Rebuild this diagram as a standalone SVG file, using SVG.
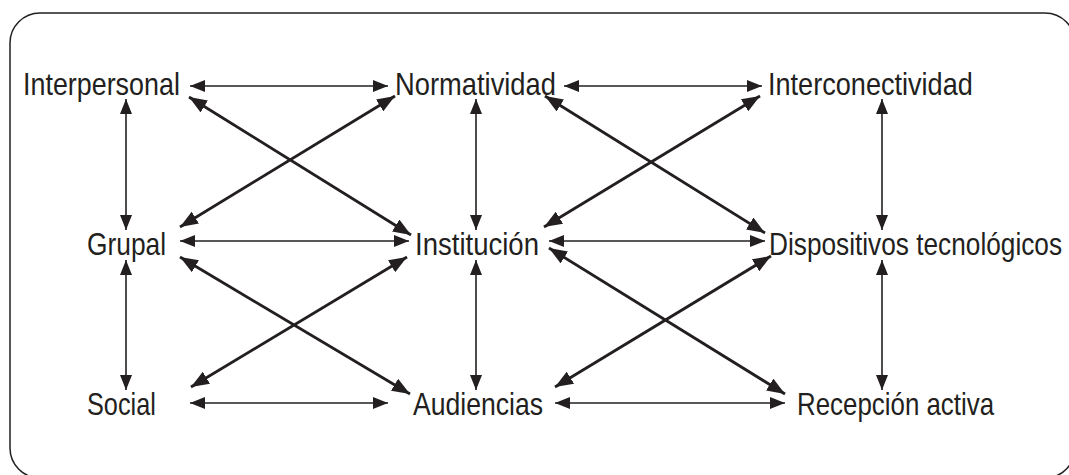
<svg xmlns="http://www.w3.org/2000/svg" width="1069" height="475" viewBox="0 0 1069 475">
  <style>
    .frame { fill: none; stroke: #231f20; stroke-width: 1.5; }
    .lbl { font-family: "Liberation Sans", Arial, sans-serif; font-size: 32px; fill: #231f20; }
    .thin { stroke: #231f20; stroke-width: 1.6; fill: none; marker-start: url(#ah); marker-end: url(#ah); }
    .thick { stroke: #231f20; stroke-width: 2.8; fill: none; marker-start: url(#ahb); marker-end: url(#ahb); }
  </style>
  <defs>
    <marker id="ah" viewBox="0 -6 15 12" refX="15" refY="0" markerWidth="15" markerHeight="12" markerUnits="userSpaceOnUse" orient="auto-start-reverse">
      <path d="M0,-6 L15,0 L0,6 z" fill="#231f20"/>
    </marker>
    <marker id="ahb" viewBox="0 -7 18 14" refX="18" refY="0" markerWidth="18" markerHeight="14" markerUnits="userSpaceOnUse" orient="auto-start-reverse">
      <path d="M0,-7 L18,0 L0,7 z" fill="#231f20"/>
    </marker>
  </defs>

  <rect class="frame" x="10" y="13" width="1065" height="465" rx="30" ry="30"/>

  <g id="connectors">
    <line class="thin" x1="190" y1="86" x2="388" y2="86"/>
    <line class="thin" x1="564" y1="86" x2="762" y2="86"/>
    <line class="thin" x1="180" y1="241" x2="409" y2="241"/>
    <line class="thin" x1="549" y1="241" x2="765" y2="241"/>
    <line class="thin" x1="190" y1="403" x2="388" y2="403"/>
    <line class="thin" x1="555" y1="403" x2="785" y2="403"/>
    <line class="thin" x1="126" y1="99" x2="126" y2="230"/>
    <line class="thin" x1="476" y1="99" x2="476" y2="230"/>
    <line class="thin" x1="882" y1="99" x2="882" y2="230"/>
    <line class="thin" x1="126" y1="260" x2="126" y2="390"/>
    <line class="thin" x1="476" y1="260" x2="476" y2="390"/>
    <line class="thin" x1="882" y1="260" x2="882" y2="390"/>
    <line class="thick" x1="189" y1="97" x2="411" y2="235"/>
    <line class="thick" x1="395" y1="96" x2="180" y2="227"/>
    <line class="thick" x1="180" y1="257" x2="410" y2="394"/>
    <line class="thick" x1="407" y1="257" x2="191" y2="387"/>
    <line class="thick" x1="545" y1="96" x2="765" y2="233"/>
    <line class="thick" x1="760" y1="96" x2="544" y2="227"/>
    <line class="thick" x1="549" y1="248" x2="785" y2="394"/>
    <line class="thick" x1="771" y1="256" x2="555" y2="387"/>
  </g>

  <g id="interpersonal"><text class="lbl" transform="translate(23,94.5) scale(0.840,1)">Interpersonal</text></g>
  <g id="normatividad"><text class="lbl" transform="translate(395,94.5) scale(0.854,1)">Normatividad</text></g>
  <g id="interconectividad"><text class="lbl" transform="translate(768,94.5) scale(0.847,1)">Interconectividad</text></g>
  <g id="grupal"><text class="lbl" transform="translate(87,255) scale(0.823,1)">Grupal</text></g>
  <g id="institucion"><text class="lbl" transform="translate(415,255) scale(0.861,1)">Institución</text></g>
  <g id="dispositivos"><text class="lbl" transform="translate(769,255) scale(0.820,1)">Dispositivos tecnológicos</text></g>
  <g id="social"><text class="lbl" transform="translate(87,415) scale(0.790,1)">Social</text></g>
  <g id="audiencias"><text class="lbl" transform="translate(413,415) scale(0.831,1)">Audiencias</text></g>
  <g id="recepcion"><text class="lbl" transform="translate(797,415) scale(0.809,1)">Recepción activa</text></g>
</svg>
